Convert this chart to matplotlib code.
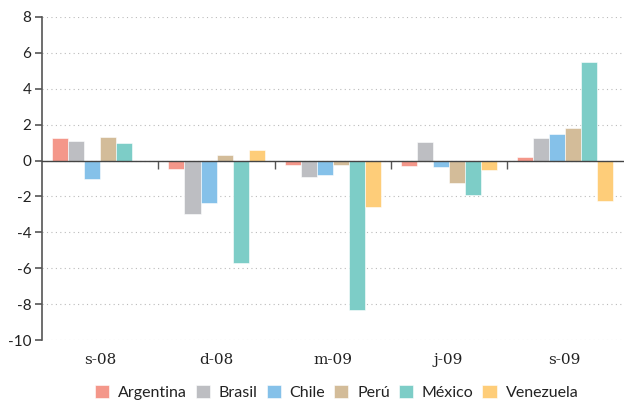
import matplotlib
matplotlib.use("Agg")
import matplotlib.pyplot as plt
import matplotlib.transforms as mtransforms
import numpy as np

categories = ["s-08", "d-08", "m-09", "j-09", "s-09"]
series_names = ["Argentina", "Brasil", "Chile", "Perú", "México", "Venezuela"]
argentina = [1.25, -0.45, -0.25, -0.28, 0.2]
brasil = [1.1, -2.98, -0.93, 1.06, 1.25]
chile = [-1.0, -2.35, -0.8, -0.37, 1.5]
peru = [1.3, 0.32, -0.22, -1.27, 1.8]
mexico = [1.0, -5.68, -8.32, -1.9, 5.47]
venezuela = [-0.05, 0.58, -2.6, -0.54, -2.25]
colors = ["#F4978A", "#BDBEC2", "#85C1E9", "#D3BC99", "#7DCDC7", "#FECD79"]
yticks = [-10, -8, -6, -4, -2, 0, 2, 4, 6, 8]

series = [argentina, brasil, chile, peru, mexico, venezuela]

fig = plt.figure(figsize=(6.24, 4.03), dpi=100)
ax = fig.add_axes([0.068, 0.156, 0.93, 0.802])

x = np.arange(len(categories))
n = len(series)
bw = 0.138
for i, (vals, name, c) in enumerate(zip(series, series_names, colors)):
    off = (i - (n - 1) / 2) * bw
    ax.bar(x + off, vals, width=bw, color=c, label=name, zorder=3,
           edgecolor="white", linewidth=0.4)

ax.set_xlim(-0.5, len(categories) - 0.5)
ax.set_ylim(-10, 8)
ax.set_yticks(yticks)
ax.set_yticklabels([str(v) for v in yticks], fontsize=11, family="Lato", color="#222222")

ax.grid(axis="y", linestyle=(0, (1, 3)), color="#bbbbbb", linewidth=0.8, zorder=0)

for s in ["top", "right"]:
    ax.spines[s].set_visible(False)
ax.spines["left"].set_color("#555555")
ax.spines["left"].set_linewidth(1.2)
ax.spines["bottom"].set_position(("data", 0))
ax.spines["bottom"].set_color("#444444")
ax.spines["bottom"].set_linewidth(1.0)
ax.spines["bottom"].set_zorder(4)
ax.tick_params(axis="y", direction="out", length=5, color="#555555", width=1.2, pad=3)

bounds = np.arange(len(categories) - 1) + 0.5
ax.set_xticks(bounds)
ax.set_xticklabels([])
ax.tick_params(axis="x", direction="out", length=6, color="#555555", width=1.0)

trans = mtransforms.blended_transform_factory(ax.transData, ax.transAxes)
for xi, lab in zip(x, categories):
    ax.text(xi, -0.04, lab, transform=trans, ha="center", va="top",
            fontsize=11, family="DejaVu Serif", color="#222222")

leg = ax.legend(loc="upper center", bbox_to_anchor=(0.507, -0.095), ncol=6,
                frameon=False, fontsize=11.5, handlelength=0.9, handleheight=0.9,
                columnspacing=0.55, handletextpad=0.55)
for t in leg.get_texts():
    t.set_family("Lato")
    t.set_color("#222222")

fig.savefig("out.png", dpi=100)
